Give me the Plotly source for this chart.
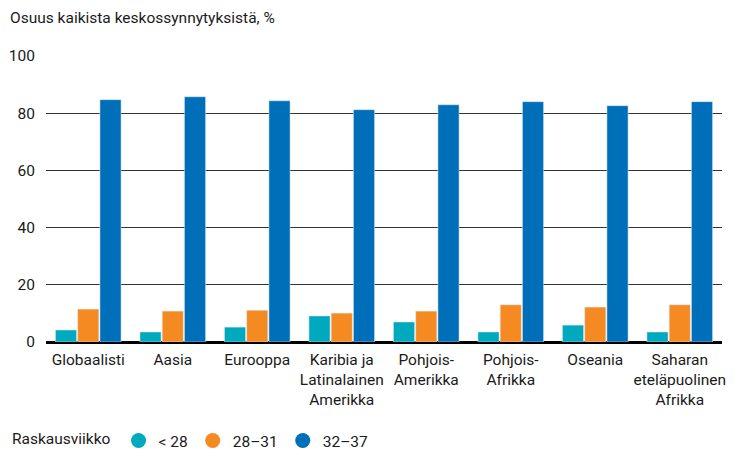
import plotly.graph_objects as go

categories = ["Globaalisti", "Aasia", "Eurooppa", "Karibia ja<br>Latinalainen<br>Amerikka",
              "Pohjois-<br>Amerikka", "Pohjois-<br>Afrikka", "Oseania",
              "Saharan<br>eteläpuolinen<br>Afrikka"]
series_names = ["< 28", "28–31", "32–37"]
under28 = [4.2, 3.5, 5.2, 9.1, 7.0, 3.5, 5.9, 3.5]
w28_31 = [11.5, 10.8, 11.1, 10.1, 10.8, 13.0, 12.2, 13.0]
w32_37 = [84.7, 85.7, 84.3, 81.2, 82.9, 84.0, 82.6, 84.0]
y_ticks = [0, 20, 40, 60, 80, 100]

colors = ["#00A9BE", "#F58A22", "#006FBA"]
FONT = "Roboto, sans-serif"
FS = 15.5

fig = go.Figure()
for name, vals, col in zip(series_names, [under28, w28_31, w32_37], colors):
    fig.add_trace(go.Bar(x=categories, y=vals, name=name, marker_color=col,
                         showlegend=False, hoverinfo="y"))
    fig.add_trace(go.Scatter(x=[None], y=[None], mode="markers", name=name,
                             marker=dict(color=col, size=15, symbol="circle")))

fig.update_layout(
    width=734, height=453,
    margin=dict(l=46, r=12, t=55, b=111, autoexpand=False),
    plot_bgcolor="white", paper_bgcolor="white",
    barmode="group", bargap=0.21, bargroupgap=0.05,
    font=dict(family=FONT, size=FS, color="#1a1a1a"),
    xaxis=dict(showgrid=False, ticks="", tickangle=0, tickfont=dict(size=FS),
               automargin=False, fixedrange=True, ticklabeloverflow="allow",
               ticklabelstandoff=6),
    yaxis=dict(range=[0, 100.3], tickvals=y_ticks, showgrid=True, gridcolor="#333333",
               gridwidth=1, zeroline=True, zerolinecolor="#000000", zerolinewidth=3,
               ticks="", ticklabelstandoff=10, tickfont=dict(size=FS), automargin=False),
    legend=dict(orientation="h", xref="container", yref="container",
                x=0.0136, y=0.0265, xanchor="left", yanchor="middle",
                title=dict(text="Raskausviikko", side="left", font=dict(size=FS)),
                font=dict(size=FS), itemwidth=30),
    annotations=[dict(text="Osuus kaikista keskossynnytyksistä, %", xref="paper", yref="paper",
                      x=-0.0562, y=1.129, xanchor="left", yanchor="middle", showarrow=False,
                      font=dict(size=FS, family=FONT, color="#1a1a1a"))],
)

fig.write_html("out.html", config={"displayModeBar": False},
               post_script="document.body.style.margin='0';")
